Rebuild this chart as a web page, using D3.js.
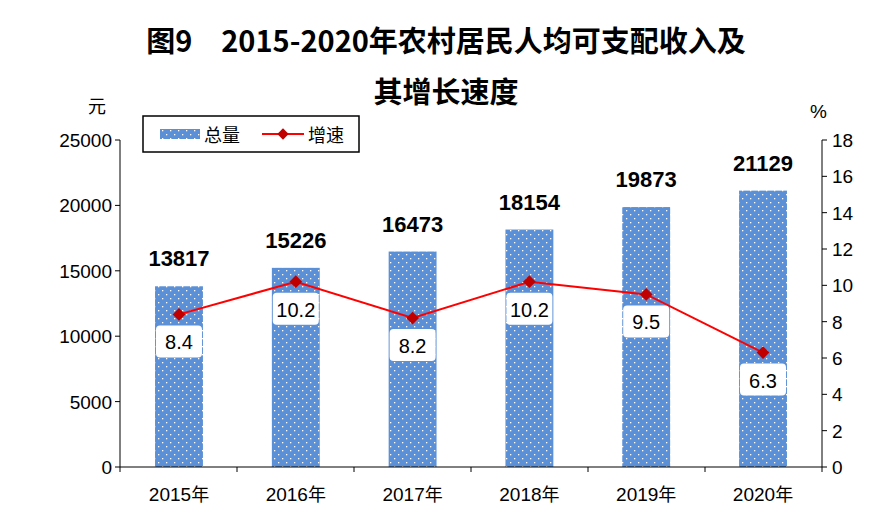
<!DOCTYPE html>
<html><head><meta charset="utf-8">
<script src="https://cdn.jsdelivr.net/npm/d3@7"></script>
<style>body{margin:0;background:#fff}svg{font-family:"Liberation Sans",Arial,sans-serif}</style>
</head><body><svg id="c" width="892" height="519"></svg>
<script>
// chart data
const years = ["2015年", "2016年", "2017年", "2018年", "2019年", "2020年"];
const totals = [13817, 15226, 16473, 18154, 19873, 21129];
const growth = [8.4, 10.2, 8.2, 10.2, 9.5, 6.3];
const leftTicks = [0, 5000, 10000, 15000, 20000, 25000];
const rightTicks = [0, 2, 4, 6, 8, 10, 12, 14, 16, 18];

const svg = d3.select("#c");
const cjk = '"Noto Sans CJK SC", sans-serif';
const plotL = 120, plotR = 822, plotT = 140, plotB = 467;

const defs = svg.append("defs");
const pat = defs.append("pattern").attr("id", "dots").attr("patternUnits", "userSpaceOnUse")
    .attr("width", 8).attr("height", 8);
pat.append("rect").attr("width", 8).attr("height", 8).attr("fill", "#5b8fd6");
pat.append("rect").attr("x", 2).attr("y", 2).attr("width", 1.3).attr("height", 1.3).attr("fill", "#fff");
pat.append("rect").attr("x", 6).attr("y", 6).attr("width", 1.3).attr("height", 1.3).attr("fill", "#fff");

const x = d3.scaleBand().domain(years).range([plotL, plotR]).paddingInner(0.59).paddingOuter(0.3);
const y = d3.scaleLinear().domain([0, 25000]).range([plotB, plotT]);
const y2 = d3.scaleLinear().domain([0, 18]).range([plotB, plotT]);

// title
svg.append("text").attr("x", 446).attr("y", 52).attr("text-anchor", "middle")
    .attr("font-family", cjk).attr("font-weight", "bold").attr("font-size", 29)
    .text("图9　2015-2020年农村居民人均可支配收入及");
svg.append("text").attr("x", 446).attr("y", 103).attr("text-anchor", "middle")
    .attr("font-family", cjk).attr("font-weight", "bold").attr("font-size", 29)
    .text("其增长速度");

// bars
svg.selectAll(".bar").data(totals).join("rect")
    .attr("x", (d, i) => x(years[i])).attr("width", x.bandwidth())
    .attr("y", d => y(d)).attr("height", d => plotB - y(d))
    .attr("fill", "url(#dots)");
svg.selectAll(".bl").data(totals).join("text")
    .attr("x", (d, i) => x(years[i]) + x.bandwidth() / 2).attr("y", d => y(d) - 20)
    .attr("text-anchor", "middle").attr("font-weight", "bold").attr("font-size", 22).text(d => d);

// axes
const ax = svg.append("g").attr("stroke", "#000").attr("fill", "none");
ax.append("line").attr("x1", plotL).attr("x2", plotL).attr("y1", plotT).attr("y2", plotB);
ax.append("line").attr("x1", plotR).attr("x2", plotR).attr("y1", plotT).attr("y2", plotB);
ax.append("line").attr("x1", plotL).attr("x2", plotR).attr("y1", plotB).attr("y2", plotB);
leftTicks.forEach(t => {
    ax.append("line").attr("x1", plotL - 5).attr("x2", plotL).attr("y1", y(t)).attr("y2", y(t));
    svg.append("text").attr("x", plotL - 8).attr("y", y(t) + 7).attr("text-anchor", "end")
        .attr("font-size", 19).text(t);
});
rightTicks.forEach(t => {
    ax.append("line").attr("x1", plotR).attr("x2", plotR + 5).attr("y1", y2(t)).attr("y2", y2(t));
    svg.append("text").attr("x", plotR + 10).attr("y", y2(t) + 7).attr("font-size", 19).text(t);
});
d3.range(years.length + 1).forEach(i => {
    const xx = plotL + (plotR - plotL) * i / years.length;
    ax.append("line").attr("x1", xx).attr("x2", xx).attr("y1", plotB).attr("y2", plotB + 5);
});
years.forEach(yr => {
    svg.append("text").attr("x", x(yr) + x.bandwidth() / 2).attr("y", 501).attr("text-anchor", "middle")
        .attr("font-size", 19).text(yr.slice(0, 4))
        .append("tspan").attr("font-family", cjk).attr("font-size", 18).text("年");
});
svg.append("text").attr("x", 88).attr("y", 113).attr("font-family", cjk).attr("font-size", 18).text("元");
svg.append("text").attr("x", 810).attr("y", 118).attr("font-size", 19).text("%");

// growth line
const cx = i => x(years[i]) + x.bandwidth() / 2;
svg.append("path").datum(growth)
    .attr("d", d3.line().x((d, i) => cx(i)).y(d => y2(d)))
    .attr("fill", "none").attr("stroke", "#f00").attr("stroke-width", 2);
svg.selectAll(".mk").data(growth).join("rect")
    .attr("x", -4.5).attr("y", -4.5).attr("width", 9).attr("height", 9).attr("fill", "#c00000")
    .attr("transform", (d, i) => `translate(${cx(i)},${y2(d)}) rotate(45)`);
const lb = svg.selectAll(".lb").data(growth).join("g")
    .attr("transform", (d, i) => `translate(${cx(i)},${y2(d) + 11})`);
lb.append("rect").attr("x", -23).attr("width", 46).attr("height", 32).attr("rx", 4)
    .attr("fill", "#fff");
lb.append("text").attr("y", 24).attr("text-anchor", "middle").attr("font-size", 20).text(d => d.toFixed(1));

// legend
const lg = svg.append("g");
lg.append("rect").attr("x", 143).attr("y", 116).attr("width", 216).attr("height", 36)
    .attr("fill", "#fff").attr("stroke", "#000").attr("stroke-width", 1.5);
lg.append("rect").attr("x", 160).attr("y", 129).attr("width", 40).attr("height", 10).attr("fill", "url(#dots)");
lg.append("text").attr("x", 204).attr("y", 142).attr("font-family", cjk).attr("font-size", 18).text("总量");
lg.append("line").attr("x1", 262).attr("x2", 304).attr("y1", 134).attr("y2", 134).attr("stroke", "#f00").attr("stroke-width", 2);
lg.append("rect").attr("x", -4).attr("y", -4).attr("width", 8).attr("height", 8).attr("fill", "#c00000")
    .attr("transform", "translate(283,134) rotate(45)");
lg.append("text").attr("x", 308).attr("y", 142).attr("font-family", cjk).attr("font-size", 18).text("增速");
</script></body></html>
